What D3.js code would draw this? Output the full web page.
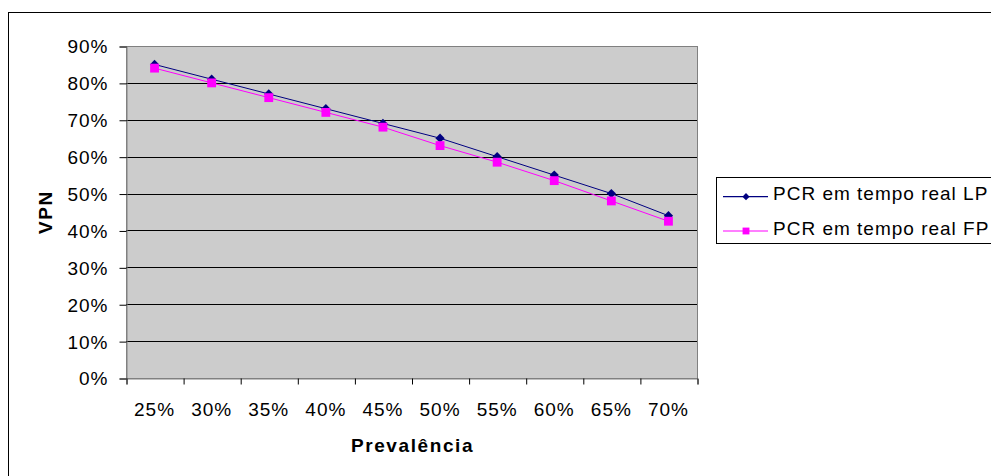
<!DOCTYPE html>
<html>
<head>
<meta charset="utf-8">
<script src="https://cdn.jsdelivr.net/npm/d3@7"></script>
<style>
    body { margin: 0; background: #fff; }
    svg text { font-family: "Liberation Sans", Arial, sans-serif; }
</style>
</head>
<body>
<svg id="chart" width="991" height="476"></svg>
<script>
var categories = ['25%', '30%', '35%', '40%', '45%', '50%', '55%', '60%', '65%', '70%'];
var lpValues = [0.85, 0.81, 0.77, 0.73, 0.69, 0.65, 0.60, 0.55, 0.50, 0.44];
var fpValues = [0.84, 0.80, 0.76, 0.72, 0.68, 0.63, 0.585, 0.535, 0.48, 0.425];
var yTicks = [0, 0.1, 0.2, 0.3, 0.4, 0.5, 0.6, 0.7, 0.8, 0.9];
var seriesNames = ['PCR em tempo real LP', 'PCR em tempo real FP'];

var svg = d3.select('#chart'),
    plotLeft = 126, plotRight = 697, plotTop = 46, plotBottom = 378,
    fontSize = 19,
    spacing = 1;

// outer chart border (runs off the right/bottom edges)
svg.append('rect')
    .attr('x', 8.5).attr('y', 12.5)
    .attr('width', 1000).attr('height', 500)
    .attr('fill', 'none').attr('stroke', '#000');

var x = d3.scaleBand().domain(categories).range([plotLeft, plotRight]);
var xIdx = d3.scaleLinear().domain([0, categories.length]).range([plotLeft, plotRight]);
var y = d3.scaleLinear().domain([0, 0.9]).range([plotBottom, plotTop]);

// plot area
svg.append('rect')
    .attr('x', plotLeft).attr('y', plotTop)
    .attr('width', plotRight - plotLeft).attr('height', plotBottom - plotTop)
    .attr('fill', '#cccccc').attr('stroke', '#808080')
    .attr('shape-rendering', 'crispEdges');

svg.append('g').selectAll('line').data(yTicks.slice(1, -1))
    .enter().append('line')
    .attr('x1', plotLeft).attr('x2', plotRight)
    .attr('y1', function (d) { return Math.round(y(d)) + 0.5; })
    .attr('y2', function (d) { return Math.round(y(d)) + 0.5; })
    .attr('stroke', '#000');

// y axis
var yAxis = svg.append('g')
    .attr('transform', 'translate(' + (plotLeft + 0.5) + ',0.5)')
    .call(d3.axisLeft(y).tickValues(yTicks).tickFormat(d3.format('.0%'))
        .tickSize(7).tickPadding(11));
yAxis.select('.domain').attr('stroke', '#808080');
yAxis.selectAll('.tick line').attr('stroke', '#000');
yAxis.selectAll('text')
    .attr('font-size', fontSize).attr('letter-spacing', spacing)
    .attr('fill', '#000').attr('dy', '0.34em');

// x axis: ticks at category boundaries, labels at centres
var xTickAxis = svg.append('g')
    .attr('transform', 'translate(0.5,' + (plotBottom + 0.5) + ')')
    .call(d3.axisBottom(xIdx).tickValues(d3.range(categories.length + 1))
        .tickFormat('').tickSize(6));
xTickAxis.select('.domain').attr('stroke', '#808080');
xTickAxis.selectAll('.tick line').attr('stroke', '#000');

var xAxis = svg.append('g')
    .attr('transform', 'translate(0,' + plotBottom + ')')
    .call(d3.axisBottom(x).tickSize(0).tickPadding(25));
xAxis.select('.domain').remove();
xAxis.selectAll('text')
    .attr('font-size', fontSize).attr('letter-spacing', spacing).attr('fill', '#000');

// axis titles
svg.append('text')
    .attr('x', (plotLeft + plotRight) / 2 + 1).attr('y', 452)
    .attr('text-anchor', 'middle')
    .attr('font-size', fontSize).attr('font-weight', 'bold')
    .attr('letter-spacing', 1.6)
    .text('Prevalência');

svg.append('text')
    .attr('transform', 'translate(52,' + ((plotTop + plotBottom) / 2) + ') rotate(-90)')
    .attr('text-anchor', 'middle')
    .attr('font-size', fontSize).attr('font-weight', 'bold')
    .attr('letter-spacing', 1.6)
    .text('VPN');

// series
var cx = function (d, i) { return x(categories[i]) + x.bandwidth() / 2; };
var line = d3.line()
    .x(cx)
    .y(function (d) { return y(d); });

var series = [
    {name: seriesNames[0], values: lpValues, color: '#000080', marker: d3.symbolDiamond2, size: 55},
    {name: seriesNames[1], values: fpValues, color: '#ff00ff', marker: d3.symbolSquare, size: 78}
];

series.forEach(function (s) {
    svg.append('path')
        .attr('d', line(s.values))
        .attr('fill', 'none').attr('stroke', s.color).attr('stroke-width', 1);
});
series.forEach(function (s) {
    svg.append('g').selectAll('path').data(s.values)
        .enter().append('path')
        .attr('transform', function (d, i) { return 'translate(' + cx(d, i) + ',' + y(d) + ')'; })
        .attr('d', d3.symbol().type(s.marker).size(s.size))
        .attr('fill', s.color);
});

// legend
var legend = svg.append('g');
legend.append('rect')
    .attr('x', 716.5).attr('y', 177.5)
    .attr('width', 300).attr('height', 66)
    .attr('fill', '#fff').attr('stroke', '#000');

var rows = legend.selectAll('g.row').data(series)
    .enter().append('g')
    .attr('transform', function (d, i) { return 'translate(0,' + (196.7 + i * 34.3) + ')'; });
rows.append('line')
    .attr('x1', 723).attr('x2', 768).attr('y1', 0).attr('y2', 0)
    .attr('stroke', function (d) { return d.color; }).attr('stroke-width', 1.2);
rows.append('path')
    .attr('transform', 'translate(746,0)')
    .attr('d', function (d) { return d3.symbol().type(d.marker).size(d.size * 0.6)(); })
    .attr('fill', function (d) { return d.color; });
rows.append('text')
    .attr('x', 773).attr('y', 3.5)
    .attr('font-size', fontSize).attr('letter-spacing', spacing)
    .text(function (d) { return d.name; });
</script>
</body>
</html>
